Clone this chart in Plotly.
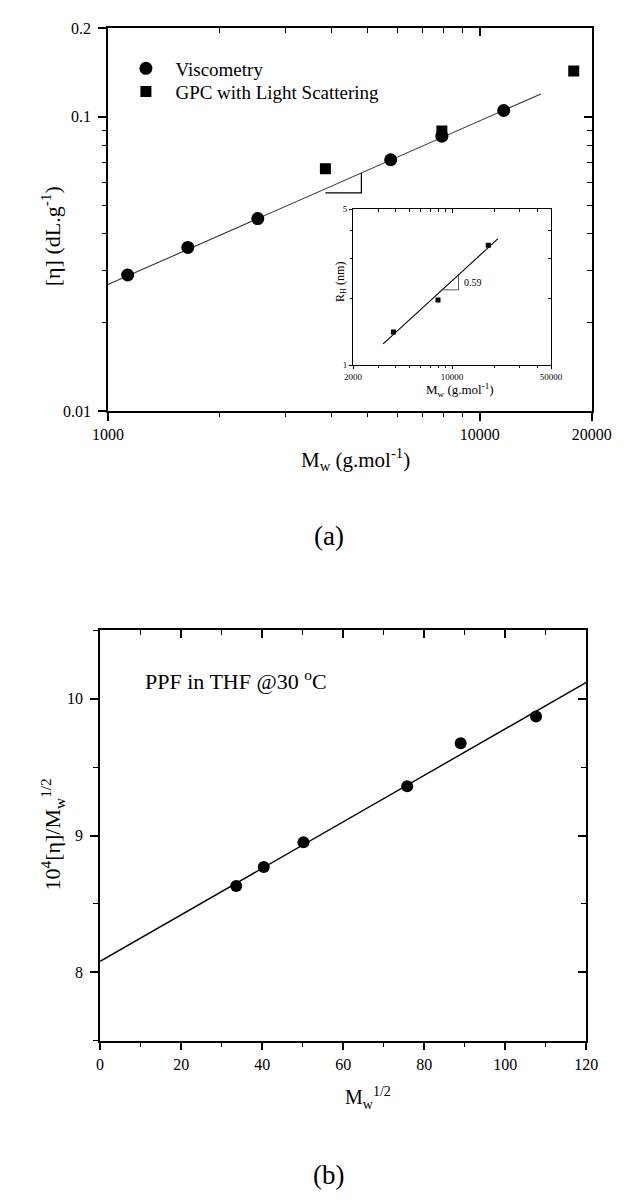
import math
import plotly.graph_objects as go

FONT = "Liberation Serif"
W, H = 631, 1200

# ---------------- data: panel (a) ----------------
visc_mw = [1130, 1640, 2530, 5760, 7910, 11600]
visc_eta = [0.0290, 0.0360, 0.0451, 0.0715, 0.0860, 0.1051]
gpc_mw = [3845, 7910, 17900]
gpc_eta = [0.0666, 0.0895, 0.1432]
fit_a_mw = [1000, 14600]
fit_a_eta = [0.0269, 0.1197]
slope_a_mw = [3845, 4805, 4805]
slope_a_eta = [0.0552, 0.0552, 0.0644]

a_x_ticks = [1000, 10000, 20000]
a_x_labels = ["1000", "10000", "20000"]
a_x_minor = [2000, 3000, 4000, 5000, 6000, 7000, 8000, 9000]
a_y_ticks = [0.01, 0.1, 0.2]
a_y_labels = ["0.01", "0.1", "0.2"]
a_y_minor = [0.02, 0.03, 0.04, 0.05, 0.06, 0.07, 0.08, 0.09]

# ---------------- data: inset ----------------
inset_mw = [3850, 7950, 18000]
inset_rh = [1.41, 1.96, 3.45]
inset_fit_mw = [3260, 21100]
inset_fit_rh = [1.246, 3.69]
inset_slope_mw = [8390, 11100, 11100]
inset_slope_rh = [2.177, 2.177, 2.543]
inset_slope_text = "0.59"
inset_slope_text_pos = (11700, 2.35)

in_x_ticks = [2000, 10000, 50000]
in_x_labels = ["2000", "10000", "50000"]
in_x_minor = [3000, 4000, 5000, 6000, 7000, 8000, 9000, 20000, 30000, 40000]
in_y_ticks = [1, 5]
in_y_labels = ["1", "5"]
in_y_minor = [2, 3, 4]

# ---------------- data: panel (b) ----------------
sqrt_mw = [33.6, 40.4, 50.2, 75.8, 89.0, 107.6]
ratio = [8.63, 8.77, 8.95, 9.36, 9.675, 9.87]
fit_b_x = [0, 120]
fit_b_y = [8.08, 10.12]
b_x_ticks = [0, 20, 40, 60, 80, 100, 120]
b_x_minor = [10, 30, 50, 70, 90, 110]
b_y_ticks = [8, 9, 10]
b_y_minor = [7.5, 8.5, 9.5, 10.5]


def px_x(p):
    return p / W


def px_y(p):
    return 1 - p / H


# panel geometry (pixels)
A = dict(l=89, r=602, t=12.5, b=400.7)
IN = dict(l=349, r=559, t=196, b=354.3)
B = dict(l=80.7, r=596.3, t=623.3, b=1039.3)


def axis(dom, typ, rng, side, ticks, ticklen, tickvals, ticktext, minor_vals,
         minor_len, fsize=16, lw=1.6, tw=1.5, anchor=None, overlaying=None,
         standoff=None):
    d = dict(
        domain=dom, type=typ, range=rng, side=side, showline=True,
        linecolor="black", linewidth=lw, ticks=ticks, ticklen=ticklen,
        tickwidth=tw, tickcolor="black", tickmode="array", tickvals=tickvals,
        ticktext=ticktext, showgrid=False, zeroline=False, fixedrange=True,
        tickfont=dict(family=FONT, size=fsize, color="black"),
        minor=dict(tickmode="array", tickvals=minor_vals, ticks=ticks,
                   ticklen=minor_len, tickwidth=tw * 0.85, tickcolor="black",
                   showgrid=False),
    )
    if ticktext is None:
        d["showticklabels"] = False
        d.pop("ticktext")
    if anchor:
        d["anchor"] = anchor
    if overlaying:
        d["overlaying"] = overlaying
    if standoff is not None:
        d["ticklabelstandoff"] = standoff
    return d


ax_dom = [px_x(A["l"]), px_x(A["r"])]
ay_dom = [px_y(A["b"]), px_y(A["t"])]
ix_dom = [px_x(IN["l"]), px_x(IN["r"])]
iy_dom = [px_y(IN["b"]), px_y(IN["t"])]
bx_dom = [px_x(B["l"]), px_x(B["r"])]
by_dom = [px_y(B["b"]), px_y(B["t"])]

a_xr = [math.log10(1000), math.log10(20000)]
a_yr = [math.log10(0.01), math.log10(0.2)]
i_xr = [math.log10(2000), math.log10(50000)]
i_yr = [0, math.log10(5)]
b_xr = [0, 120]
b_yr = [7.5, 10.5]

fig = go.Figure()

# ---- panel (a) traces ----
fig.add_trace(go.Scatter(x=fit_a_mw, y=fit_a_eta, mode="lines",
                         line=dict(color="#333333", width=1.1),
                         showlegend=False, hoverinfo="skip", xaxis="x", yaxis="y"))
fig.add_trace(go.Scatter(x=slope_a_mw, y=slope_a_eta, mode="lines",
                         line=dict(color="black", width=1.2),
                         showlegend=False, hoverinfo="skip", xaxis="x", yaxis="y"))
fig.add_trace(go.Scatter(x=visc_mw, y=visc_eta, mode="markers", name="Viscometry",
                         marker=dict(symbol="circle", size=13, color="black"),
                         xaxis="x", yaxis="y", legend="legend"))
fig.add_trace(go.Scatter(x=gpc_mw, y=gpc_eta, mode="markers",
                         name="GPC with Light Scattering",
                         marker=dict(symbol="square", size=11, color="black"),
                         xaxis="x", yaxis="y", legend="legend2"))
fig.add_trace(go.Scatter(x=[None], y=[None], mode="markers", showlegend=False,
                         hoverinfo="skip", xaxis="x2", yaxis="y2"))

# ---- inset traces ----
fig.add_trace(go.Scatter(x=inset_fit_mw, y=inset_fit_rh, mode="lines",
                         line=dict(color="black", width=1.1),
                         showlegend=False, hoverinfo="skip", xaxis="x3", yaxis="y3"))
fig.add_trace(go.Scatter(x=inset_slope_mw, y=inset_slope_rh, mode="lines",
                         line=dict(color="#444444", width=0.9),
                         showlegend=False, hoverinfo="skip", xaxis="x3", yaxis="y3"))
fig.add_trace(go.Scatter(x=inset_mw, y=inset_rh, mode="markers",
                         marker=dict(symbol="square", size=5, color="black"),
                         showlegend=False, xaxis="x3", yaxis="y3"))
fig.add_trace(go.Scatter(x=[None], y=[None], mode="markers", showlegend=False,
                         hoverinfo="skip", xaxis="x4", yaxis="y4"))

# ---- panel (b) traces ----
fig.add_trace(go.Scatter(x=fit_b_x, y=fit_b_y, mode="lines",
                         line=dict(color="black", width=1.4),
                         showlegend=False, hoverinfo="skip", xaxis="x5", yaxis="y5"))
fig.add_trace(go.Scatter(x=sqrt_mw, y=ratio, mode="markers",
                         marker=dict(symbol="circle", size=12, color="black"),
                         showlegend=False, xaxis="x5", yaxis="y5"))
fig.add_trace(go.Scatter(x=[None], y=[None], mode="markers", showlegend=False,
                         hoverinfo="skip", xaxis="x6", yaxis="y6"))

lay = dict(
    width=W, height=H, margin=dict(l=0, r=0, t=0, b=0),
    paper_bgcolor="white", plot_bgcolor="white",
    font=dict(family=FONT, color="black"),
    xaxis=axis(ax_dom, "log", a_xr, "bottom", "outside", 8, a_x_ticks, a_x_labels,
               a_x_minor, 4, anchor="y"),
    yaxis=axis(ay_dom, "log", a_yr, "left", "outside", 8, a_y_ticks, a_y_labels,
               a_y_minor, 4, anchor="x", standoff=4),
    xaxis2=axis(ax_dom, "log", a_xr, "top", "inside", 8, a_x_ticks, None,
                a_x_minor, 5, anchor="y", overlaying="x"),
    yaxis2=axis(ay_dom, "log", a_yr, "right", "inside", 8, a_y_ticks, None,
                a_y_minor, 5, anchor="x", overlaying="y"),
    xaxis3=axis(ix_dom, "log", i_xr, "bottom", "outside", 3, in_x_ticks, in_x_labels,
                in_x_minor, 2, fsize=9, lw=1, tw=1, anchor="y3"),
    yaxis3=axis(iy_dom, "log", i_yr, "left", "outside", 3, in_y_ticks, in_y_labels,
                in_y_minor, 2, fsize=9, lw=1, tw=1, anchor="x3"),
    xaxis4=axis(ix_dom, "log", i_xr, "top", "inside", 4, in_x_ticks, None,
                in_x_minor, 3, lw=1, tw=1, anchor="y3", overlaying="x3"),
    yaxis4=axis(iy_dom, "log", i_yr, "right", "inside", 4, in_y_ticks, None,
                in_y_minor, 3, lw=1, tw=1, anchor="x3", overlaying="y3"),
    xaxis5=axis(bx_dom, "linear", b_xr, "bottom", "outside", 8, b_x_ticks,
                [str(v) for v in b_x_ticks], b_x_minor, 5, anchor="y5"),
    yaxis5=axis(by_dom, "linear", b_yr, "left", "outside", 8, b_y_ticks,
                [str(v) for v in b_y_ticks], b_y_minor, 5, anchor="x5", standoff=4),
    xaxis6=axis(bx_dom, "linear", b_xr, "top", "inside", 8, b_x_ticks, None,
                b_x_minor, 5, anchor="y5", overlaying="x5"),
    yaxis6=axis(by_dom, "linear", b_yr, "right", "inside", 8, b_y_ticks, None,
                b_y_minor, 5, anchor="x5", overlaying="y5"),
    legend=dict(x=px_x(98), y=px_y(34), xanchor="left", yanchor="top",
                font=dict(family=FONT, size=19, color="black"),
                itemwidth=49, bgcolor="rgba(0,0,0,0)", borderwidth=0),
    legend2=dict(x=px_x(98), y=px_y(57.5), xanchor="left", yanchor="top",
                 font=dict(family=FONT, size=19, color="black"),
                 itemwidth=49, bgcolor="rgba(0,0,0,0)", borderwidth=0),
)
fig.update_layout(**lay)


def note(text, x, y, size, angle=0, xanchor="center", xref="paper", yref="paper"):
    fig.add_annotation(text=text, x=x, y=y, xref=xref, yref=yref,
                       xanchor=xanchor, yanchor="middle", showarrow=False,
                       textangle=angle,
                       font=dict(family=FONT, size=size, color="black"))


# panel (a) titles
note("[η] (dL.g<sup>-1</sup>)", px_x(28), px_y(223), 22, angle=-90)
note("M<sub>w</sub> (g.mol<sup>-1</sup>)", px_x(352), px_y(450), 21)
note("(a)", px_x(323), px_y(527), 27)
# inset titles
note("M<sub>w</sub> (g.mol<sup>-1</sup>)", px_x(462), px_y(379), 13)
note("R<sub>H</sub> (nm)", px_x(336), px_y(270), 12, angle=-90)
note(inset_slope_text, math.log10(inset_slope_text_pos[0]),
     math.log10(inset_slope_text_pos[1]), 10, xanchor="left", xref="x3", yref="y3")
# panel (b) titles
note("10<sup>4</sup>[η]/M<sub>w</sub><sup>1/2</sup>", px_x(30), px_y(830), 22, angle=-90)
note("M<sub>w</sub><sup>1/2</sup>", px_x(365), px_y(1098), 20)
note("(b)", px_x(323), px_y(1176), 27)
note("PPF in THF @30 <sup>o</sup>C", 10.6, 10.14, 22, xanchor="left",
     xref="x5", yref="y5")

fig.write_html("out.html")
